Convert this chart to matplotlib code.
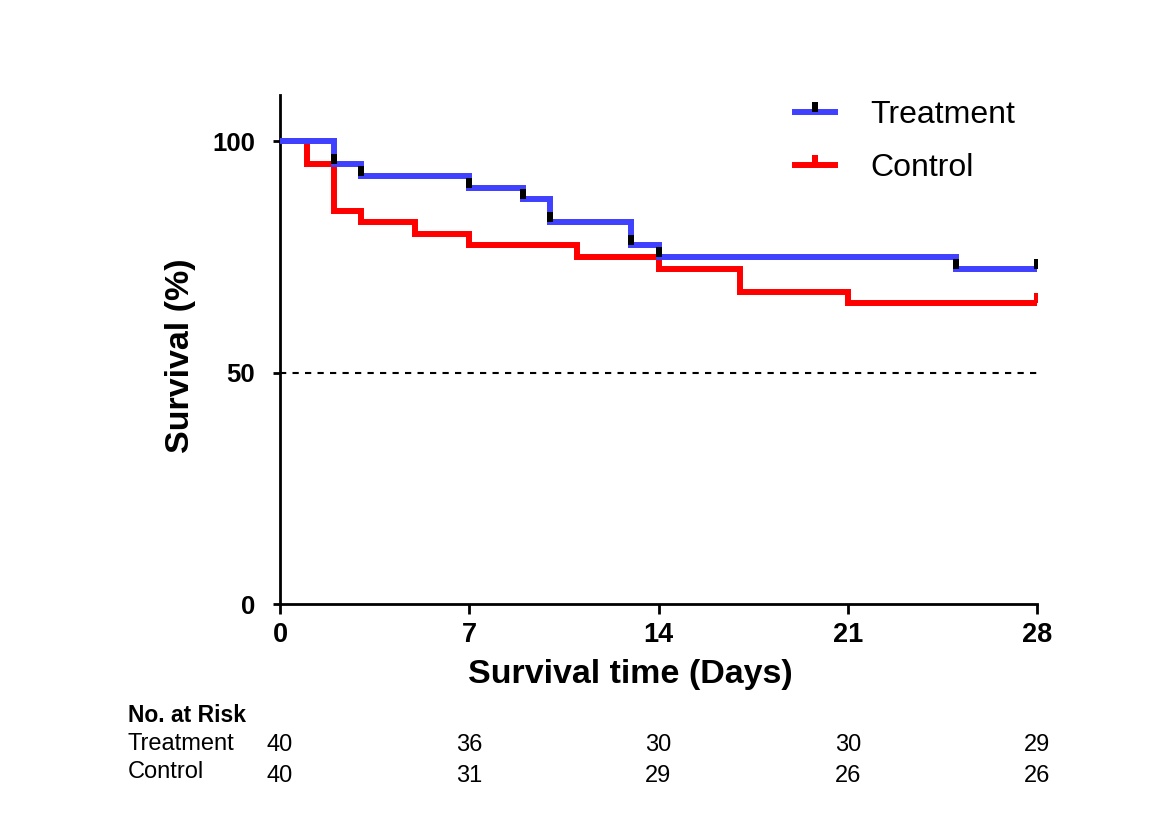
import matplotlib
matplotlib.use("Agg")
import matplotlib.pyplot as plt
from matplotlib.lines import Line2D
from matplotlib.transforms import blended_transform_factory

plt.rcParams['font.family'] = ['Liberation Sans', 'DejaVu Sans']

# Data
treat_t = [0, 2, 3, 7, 9, 10, 13, 14, 25, 28]
treat_s = [100, 95, 92.5, 90, 87.5, 82.5, 77.5, 75, 72.5, 72.5]
treat_cens_t = [2, 3, 7, 9, 10, 13, 14, 25, 28]
treat_cens_s = [95, 92.5, 90, 87.5, 82.5, 77.5, 75, 72.5, 72.5]

ctrl_t = [0, 1, 2, 3, 5, 7, 11, 14, 17, 21, 28]
ctrl_s = [100, 95, 85, 82.5, 80, 77.5, 75, 72.5, 67.5, 65, 65]
ctrl_cens_t = [28]
ctrl_cens_s = [65]

xticks = [0, 7, 14, 21, 28]
yticks = [0, 50, 100]
risk_treat = [40, 36, 30, 30, 29]
risk_ctrl = [40, 31, 29, 26, 26]

blue = '#4040ff'
red = '#ff0000'

fig = plt.figure(figsize=(11.54, 8.36), dpi=100)
ax = fig.add_axes([280/1154, 1-604/836, (1037-280)/1154, (604-95)/836])

tick_marker = [(-0.3, 0), (0.3, 0), (0.3, 1), (-0.3, 1)]

ax.axhline(50, color='black', lw=1.5, ls=(0, (3, 3)), zorder=1)
ax.step(ctrl_t, ctrl_s, where='post', color=red, lw=4.3, zorder=2, solid_joinstyle='miter')
ax.plot(ctrl_cens_t, ctrl_cens_s, ls='none', marker=tick_marker, color=red, markersize=15, mew=0, zorder=3)
ax.step(treat_t, treat_s, where='post', color=blue, lw=4.3, zorder=4, solid_joinstyle='miter')
ax.plot(treat_cens_t, treat_cens_s, ls='none', marker=tick_marker, color='black', markersize=15, mew=0, zorder=5)

ax.set_xlim(0, 28)
ax.set_ylim(0, 110)
ax.set_xticks(xticks)
ax.set_yticks(yticks)
ax.set_xticklabels([str(v) for v in xticks], fontsize=19.5, fontweight='bold')
ax.set_yticklabels([str(v) for v in yticks], fontsize=18.5, fontweight='bold')
ax.tick_params(axis='y', direction='out', length=5, width=2, pad=13)
ax.tick_params(axis='x', direction='out', length=7, width=2, pad=6)
for s in ['top', 'right']:
    ax.spines[s].set_visible(False)
for s in ['left', 'bottom']:
    ax.spines[s].set_linewidth(2)
ax.set_xlabel('Survival time (Days)', fontsize=24.5, fontweight='bold')
ax.set_ylabel('Survival (%)', fontsize=24.5, fontweight='bold')
ax.xaxis.label.set_va('center')
ax.yaxis.label.set_va('center')
ax.xaxis.set_label_coords((630-280)/757, (604-675)/509)
ax.yaxis.set_label_coords((180-280)/757, (604-356)/509)

handles = [
    Line2D([], [], color=blue, lw=4.3, marker=tick_marker, markersize=15, mfc='black', mec='black', mew=0),
    Line2D([], [], color=red, lw=4.3, marker=tick_marker, markersize=15, mfc=red, mec=red, mew=0),
]
ax.legend(handles, ['Treatment', 'Control'], loc='upper left',
          bbox_to_anchor=(795/1154, 1-100/836), bbox_transform=fig.transFigure,
          frameon=False, fontsize=23, handlelength=1.25, handletextpad=1.1,
          labelspacing=0.72, borderpad=0, borderaxespad=0)

tr = blended_transform_factory(ax.transData, fig.transFigure)
fig.text(128/1154, 1-715/836, 'No. at Risk', fontsize=16.5, fontweight='bold', va='center', ha='left')
fig.text(128/1154, 1-744/836, 'Treatment', fontsize=17, va='center', ha='left')
fig.text(128/1154, 1-772/836, 'Control', fontsize=17, va='center', ha='left')
for x, a, b in zip(xticks, risk_treat, risk_ctrl):
    ax.text(x, 1-745/836, str(a), transform=tr, fontsize=17, ha='center', va='center')
    ax.text(x, 1-776/836, str(b), transform=tr, fontsize=17, ha='center', va='center')

fig.savefig('out.png', dpi=100)
